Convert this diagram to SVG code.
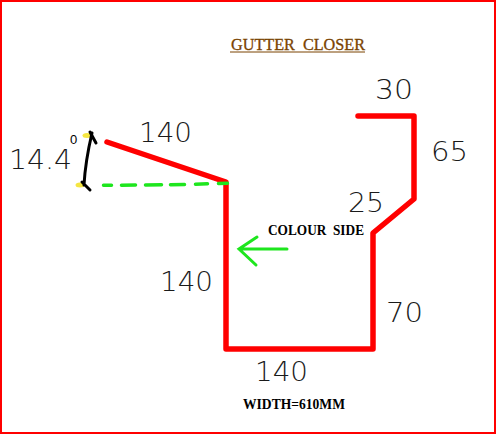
<svg xmlns="http://www.w3.org/2000/svg" width="496" height="434" viewBox="0 0 496 434">
<style>
.dim{font-family:"DejaVu Sans","Liberation Sans",sans-serif;font-weight:200;font-size:26px;fill:#1a1a1a}
.deg{font-family:"Liberation Sans",sans-serif;font-size:13px;fill:#000}
.serif{font-family:"Liberation Serif",serif;font-weight:700;font-size:14px;fill:#000;white-space:pre}
.title{font-family:"Liberation Serif",serif;font-size:16px;fill:#7a4300;stroke:#7a4300;stroke-width:.3;white-space:pre}
.profile{fill:none;stroke:#f00;stroke-width:5.5;stroke-linejoin:round;stroke-linecap:round}
.green{fill:none;stroke:#1ee61e;stroke-linecap:round}
.blk{fill:none;stroke:#000;stroke-width:3;stroke-linecap:round}
</style>
<rect width="496" height="434" fill="#fff"/>
<g id="frame"><rect x="1" y="1" width="494" height="432" fill="none" stroke="#f00" stroke-width="2"/></g>
<g id="connectors">
<path class="profile" d="M107 142L226 182V349H373V233L414 199V116H358"/>
<path class="green" stroke-width="3.5" stroke-dasharray="8 10 14 10 16 9 14 11 12 11 9 99" d="M103.500 185.300L170 184.800L228 183.300"/>
<path class="green" stroke-width="3" d="M287 249H239M257 237L239 249L256 265"/>
<ellipse cx="87" cy="135.500" rx="4.500" ry="2.500" fill="#f5e642"/>
<ellipse cx="80" cy="185" rx="4.500" ry="2.500" fill="#f5e642"/>
<path class="blk" d="M84 185C85 167 88 150 92 133M82 182L90 190M90 132L96 143"/>
</g>
<g id="title"><text class="title" x="231" y="50" textLength="134" lengthAdjust="spacingAndGlyphs">GUTTER  CLOSER</text><line x1="230" y1="52" x2="365" y2="52" stroke="#7a4300" stroke-width="1"/></g>
<g id="labels">
<text class="dim" x="139" y="142" textLength="53" lengthAdjust="spacingAndGlyphs">140</text>
<text class="dim" x="9" y="169" textLength="63" lengthAdjust="spacingAndGlyphs">14.4</text>
<text class="deg" x="70" y="144">0</text>
<text class="dim" x="160" y="291" textLength="53" lengthAdjust="spacingAndGlyphs">140</text>
<text class="dim" x="255" y="381" textLength="53" lengthAdjust="spacingAndGlyphs">140</text>
<text class="dim" x="386" y="322" textLength="37" lengthAdjust="spacingAndGlyphs">70</text>
<text class="dim" x="348" y="212" textLength="36" lengthAdjust="spacingAndGlyphs">25</text>
<text class="dim" x="431" y="161" textLength="37" lengthAdjust="spacingAndGlyphs">65</text>
<text class="dim" x="375" y="99" textLength="38" lengthAdjust="spacingAndGlyphs">30</text>
<text class="serif" x="268" y="235" textLength="96" lengthAdjust="spacingAndGlyphs">COLOUR  SIDE</text>
<text class="serif" x="243" y="409" textLength="102" lengthAdjust="spacingAndGlyphs">WIDTH=610MM</text>
</g>
</svg>
